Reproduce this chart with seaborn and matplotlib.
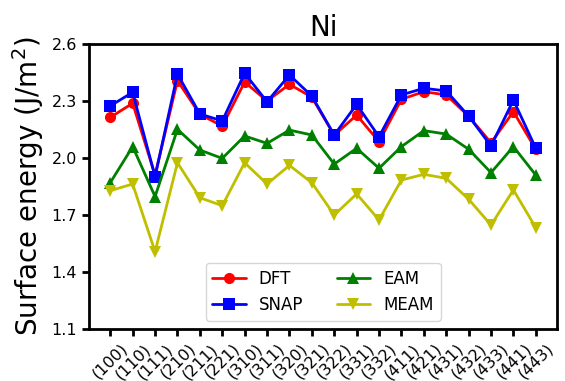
import matplotlib
matplotlib.use("Agg")
import matplotlib.pyplot as plt
import seaborn as sns
import numpy as np
import pandas as pd

facets = ["(100)", "(110)", "(111)", "(210)", "(211)", "(221)", "(310)", "(311)",
          "(320)", "(321)", "(322)", "(331)", "(332)", "(411)", "(421)", "(431)",
          "(432)", "(433)", "(441)", "(443)"]
dft = [2.214, 2.288, 1.91, 2.407, 2.23, 2.168, 2.40, 2.30, 2.388, 2.32,
       2.12, 2.226, 2.086, 2.309, 2.349, 2.332, 2.22, 2.08, 2.244, 2.045]
snap = [2.274, 2.346, 1.902, 2.442, 2.232, 2.195, 2.446, 2.296, 2.437, 2.326,
        2.121, 2.282, 2.112, 2.332, 2.367, 2.353, 2.221, 2.063, 2.305, 2.051]
eam = [1.870, 2.06, 1.797, 2.151, 2.042, 1.998, 2.116, 2.077, 2.147, 2.121,
       1.968, 2.051, 1.946, 2.060, 2.144, 2.126, 2.046, 1.923, 2.06, 1.910]
meam = [1.828, 1.863, 1.507, 1.975, 1.791, 1.749, 1.975, 1.863, 1.961, 1.870,
        1.70, 1.811, 1.674, 1.884, 1.914, 1.893, 1.783, 1.647, 1.832, 1.633]
yticks = [1.1, 1.4, 1.7, 2.0, 2.3, 2.6]

series = {"DFT": dft, "SNAP": snap, "EAM": eam, "MEAM": meam}
colors = {"DFT": "r", "SNAP": "b", "EAM": "g", "MEAM": "y"}
markers = {"DFT": "o", "SNAP": "s", "EAM": "^", "MEAM": "v"}

df = pd.concat([pd.DataFrame({"pos": np.arange(len(facets)), "energy": v, "method": k})
                for k, v in series.items()], ignore_index=True)

sns.set_style("ticks")
plt.rcParams.update({"text.color": "black", "axes.labelcolor": "black",
                     "xtick.color": "black", "ytick.color": "black",
                     "font.family": ["DejaVu Sans"]})
fig, ax = plt.subplots(figsize=(5.65, 3.81), dpi=100)
fig.subplots_adjust(left=0.1575, right=0.986, top=0.8845, bottom=0.1365)

sns.lineplot(data=df, x="pos", y="energy", hue="method", style="method",
             palette=colors, markers=markers, dashes=False, linewidth=2,
             markersize=8, markeredgewidth=0, ax=ax)

ax.set_xticks(np.arange(len(facets)))
ax.set_xticklabels(facets, rotation=45, fontsize=11.5)
ax.set_yticks(yticks)
ax.set_yticklabels([f"{t:.1f}" for t in yticks], fontsize=11.5)
ax.set_ylim(1.1, 2.6)
ax.margins(x=0.05)
ax.set_xlabel("")
ax.set_ylabel("Surface energy (J/m$^2$)", fontsize=20)
ax.set_title("Ni", fontsize=20)
for s in ax.spines.values():
    s.set_linewidth(2)
    s.set_color("black")
ax.tick_params(width=2, length=5, color="black")

ax.legend(loc="lower center", ncol=2, fontsize=12, title=None, frameon=True)

fig.savefig("out.png", dpi=100)
